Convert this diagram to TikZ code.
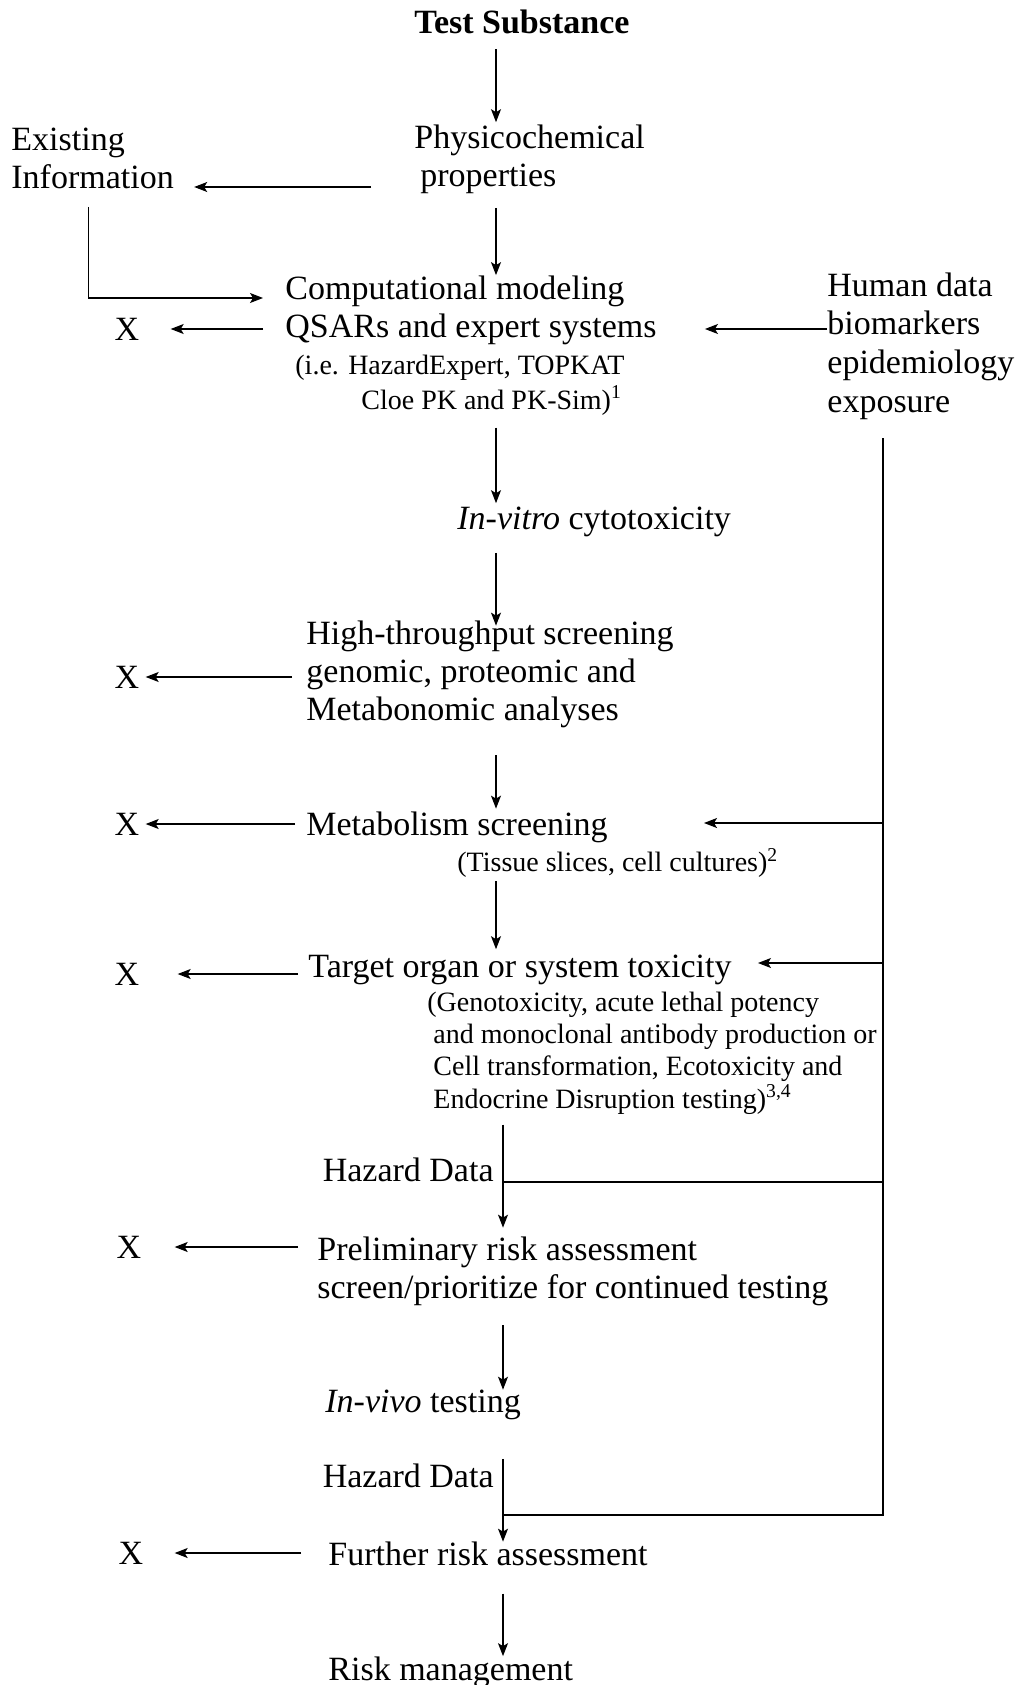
\documentclass[tikz,border=0pt]{standalone}
\usepackage{fontspec}
\setmainfont{Liberation Serif}
\usepackage{tikz}
\usetikzlibrary{arrows.meta,positioning,calc}

\begin{document}
\begin{tikzpicture}[>={Stealth[length=6.5pt,width=5pt,inset=1.5pt]}, x=0.5pt, y=-0.5pt,
    stage/.style={anchor=west, inner sep=0pt, align=left, yshift=-1.5pt, font=\fontsize{17}{19}\selectfont},
    remark/.style={anchor=west, inner sep=0pt, align=left, yshift=-1.5pt, font=\fontsize{14}{17.5}\selectfont},
    drop/.style={inner sep=0pt, font=\fontsize{17}{19}\selectfont},
    flow/.style={->, line width=0.6pt},
    feed/.style={line width=0.6pt}]
\fill[white] (0,0) rectangle (1024,1685);
\useasboundingbox (0,0) rectangle (1024,1685);

\coordinate (spine) at (496,0);
\coordinate (spinelow) at (503,0);
\coordinate (rail) at (883,0);
\coordinate (joinA) at (503,1182);
\coordinate (joinB) at (503,1515);

\node[drop, font=\fontsize{17}{19}\selectfont\bfseries] (subst) at (522,22) {Test Substance};
\node[stage] (phys) at (414,156) {Physicochemical\\\hspace*{3pt}properties};
\node[stage] (exist) at (11,155) {Existing\\Information};
\node[stage] (comp) at (285,288) {Computational modeling};
\node[stage] (qsar) at (285,326) {QSARs and expert systems};
\node[remark] (qsarnote) at (295,382) {(i.e. HazardExpert, TOPKAT\\\hspace*{33pt}Cloe PK and PK-Sim)\textsuperscript{1}};
\node[stage, font=\fontsize{17}{19.3}\selectfont] (human) at (827,343) {Human data\\biomarkers\\epidemiology\\exposure};
\node[stage] (vitro) at (457,519) {\textit{In-vitro} cytotoxicity};
\node[stage] (hts) at (306,671) {High-throughput screening\\genomic, proteomic and\\Metabonomic analyses};
\node[stage] (metab) at (306,824) {Metabolism screening};
\node[remark] (metabnote) at (457,860) {(Tissue slices, cell cultures)\textsuperscript{2}};
\node[stage] (target) at (308,967) {Target organ or system toxicity};
\node[remark, font=\fontsize{14}{16.2}\selectfont] (targetnote) at (427,1050) {(Genotoxicity, acute lethal potency\\\hspace*{3pt}and monoclonal antibody production or\\\hspace*{3pt}Cell transformation, Ecotoxicity and\\\hspace*{3pt}Endocrine Disruption testing)\textsuperscript{3,4}};
\node[stage, anchor=east] (hazA) at (494,1167) {Hazard Data};
\node[stage] (prelim) at (317,1268) {Preliminary risk assessment\\screen/prioritize for continued testing};
\node[stage] (vivo) at (325,1402) {\textit{In-vivo} testing};
\node[stage, anchor=east] (hazB) at (494,1473) {Hazard Data};
\node[stage] (further) at (328,1551) {Further risk assessment};
\node[stage] (manage) at (328,1669) {Risk management};

\node[drop] (x1) at (127,329) {X};
\node[drop] (x2) at (127,677) {X};
\node[drop] (x3) at (127,824) {X};
\node[drop] (x4) at (127,974) {X};
\node[drop] (x5) at (129,1247) {X};
\node[drop] (x6) at (131,1553) {X};

\draw[flow, shorten <=7.5pt, shorten >=1pt] (subst.south -| spine) -- (phys.north -| spine);
\draw[flow, shorten <=21.5pt, shorten >=10pt] ([yshift=-14pt]phys.west) -- ([yshift=-14pt]phys.west -| exist.east);
\draw[flow, shorten <=7pt] (phys.south -| spine) -- (comp.north -| spine);
\draw[flow, shorten <=9pt, shorten >=11pt] ([xshift=-2pt]exist.south) |- ([yshift=-3.5pt]comp.west);
\draw[flow, shorten <=11pt, shorten >=15.5pt] (x1.east -| qsar.west) -- (x1.east);
\draw[flow, shorten >=24pt] (qsar.east -| human.west) -- (qsar.east);
\draw[flow, shorten <=6pt, shorten >=1.75pt] (qsarnote.south -| spine) -- (vitro.north -| spine);
\draw[flow, shorten <=7.75pt, shorten >=-2.75pt] (vitro.south -| spine) -- (hts.north -| spine);
\draw[flow, shorten <=7pt, shorten >=3pt] (x2.east -| hts.west) -- (x2.east);
\draw[flow, shorten <=13.75pt, shorten >=1.25pt] (hts.south -| spine) -- (metab.north -| spine);
\draw[flow, shorten <=5.5pt, shorten >=3pt] (x3.east -| metab.west) -- (x3.east);
\draw[flow, shorten >=48pt] ([yshift=2pt]metab.east -| rail) -- ([yshift=2pt]metab.east);
\draw[flow, shorten <=1.6pt, shorten >=2.75pt] (metabnote.south -| spine) -- (target.north -| spine);
\draw[flow, shorten <=5pt, shorten >=19pt] (x4.east -| target.west) -- (x4.east);
\draw[flow, shorten >=13pt] ([yshift=3.5pt]target.east -| rail) -- ([yshift=3.5pt]target.east);
\draw[flow, shorten <=5pt, shorten >=4.25pt] (targetnote.south -| spinelow) -- (prelim.north -| spinelow);
\draw[feed] (joinA) -- (joinA -| rail);
\draw[flow, shorten <=9.5pt, shorten >=16.5pt] (x5.east -| prelim.west) -- (x5.east);
\draw[flow, shorten <=9.75pt] (prelim.south -| spinelow) -- (vivo.north -| spinelow);
\draw[flow, shorten <=19.25pt] (vivo.south -| spinelow) -- (further.north -| spinelow);
\draw[feed, shorten <=9.3pt] (human.south -| rail) |- (joinB);
\draw[flow, shorten <=13.5pt, shorten >=15.5pt] (x6.east -| further.west) -- (x6.east);
\draw[flow, shorten <=13.6pt] (further.south -| spinelow) -- (manage.north -| spinelow);
\end{tikzpicture}
\end{document}
